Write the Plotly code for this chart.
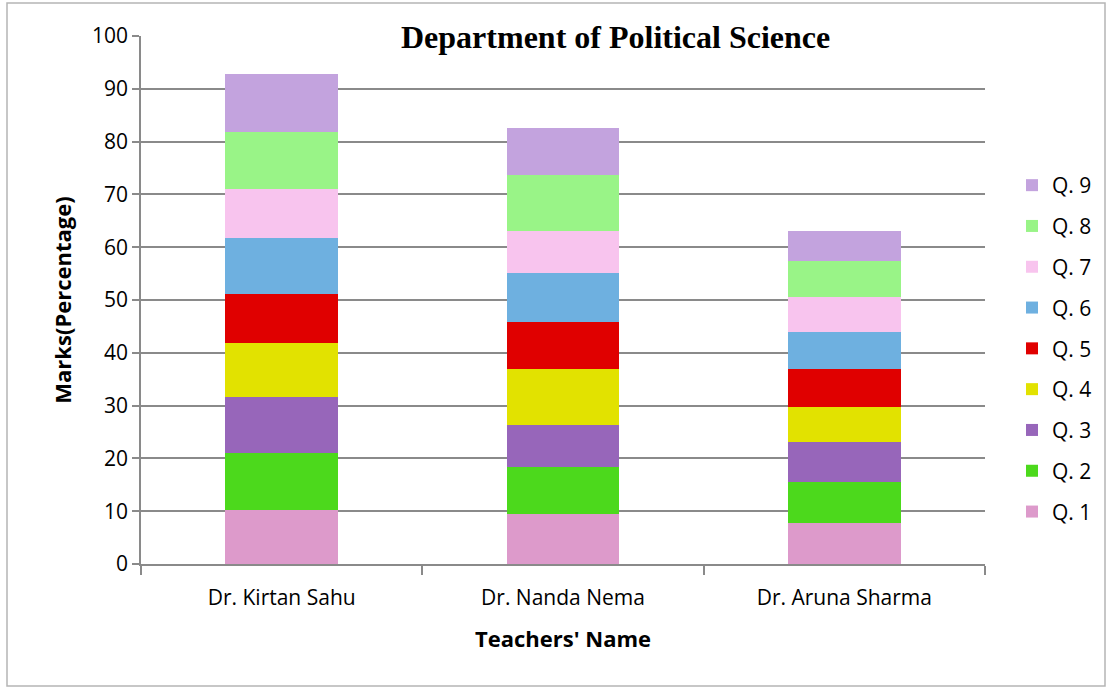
import plotly.graph_objects as go

TEACHERS = ["Dr. Kirtan Sahu", "Dr. Nanda Nema", "Dr. Aruna Sharma"]
QUESTIONS = ["Q. 1", "Q. 2", "Q. 3", "Q. 4", "Q. 5", "Q. 6", "Q. 7", "Q. 8", "Q. 9"]

# marks per question, one list per teacher (percentage)
kirtan = [10.3, 10.7, 10.6, 10.2, 9.3, 10.6, 9.3, 10.8, 11.0]
nanda = [9.4, 8.9, 8.0, 10.6, 8.9, 9.4, 7.9, 10.6, 8.9]
aruna = [7.7, 7.9, 7.6, 6.6, 7.1, 7.1, 6.6, 6.8, 5.7]

COLORS = ["#dd9acb", "#4cd91c", "#9766ba", "#e2e200", "#e00000",
          "#6eb0e0", "#f8c4ee", "#99f487", "#c3a3de"]

W, H = 1109, 689
L, R, T, B = 141, 124, 36, 125
PW, PH = W - L - R, H - T - B


def px_x(p):
    return (p - L) / PW


def px_y(p):
    return (H - B - p) / PH


fig = go.Figure()
for i, q in enumerate(QUESTIONS):
    fig.add_trace(go.Bar(
        x=TEACHERS, y=[kirtan[i], nanda[i], aruna[i]],
        name=q, legendgroup=q, legendrank=len(QUESTIONS) - i,
        marker_color=COLORS[i], marker_line_width=0,
    ))

fig.update_layout(
    width=W, height=H,
    barmode="stack", bargap=0.6,
    paper_bgcolor="white", plot_bgcolor="white",
    margin=dict(l=L, r=R, t=T, b=B),
    font=dict(family="Open Sans, DejaVu Sans, sans-serif", size=22, color="#000"),
    showlegend=True,
    legend=dict(
        traceorder="grouped", tracegroupgap=10.5,
        x=px_x(1012), y=px_y(165), xanchor="left", yanchor="top",
        font=dict(size=21), bgcolor="rgba(0,0,0,0)",
    ),
    annotations=[dict(
        text="<b>Department of Political Science</b>",
        xref="paper", yref="paper", x=px_x(615), y=px_y(37),
        xanchor="center", yanchor="middle", showarrow=False,
        font=dict(family="Liberation Serif, Times New Roman, serif", size=32, color="#000"),
    )],
    shapes=[dict(
        type="rect", xref="paper", yref="paper", layer="above",
        x0=px_x(7), x1=px_x(1105), y0=px_y(686), y1=px_y(3),
        line=dict(color="#b5b5b5", width=1.5),
    )],
)

fig.update_yaxes(
    range=[0, 100], dtick=10, showgrid=True, gridcolor="#8a8a8a", gridwidth=1.5,
    showline=True, linecolor="#8a8a8a", linewidth=1.5,
    ticks="outside", ticklen=7, tickcolor="#8a8a8a", tickwidth=1.5,
    zeroline=False, tickfont=dict(size=21),
    title=dict(text="<b>Marks(Percentage)</b>", font=dict(size=22), standoff=14),
)
fig.update_xaxes(
    showline=True, linecolor="#8a8a8a", linewidth=1.5,
    ticks="outside", tickson="boundaries", ticklen=9, tickcolor="#8a8a8a", tickwidth=1.5,
    tickfont=dict(size=21), ticklabelstandoff=14,
    title=dict(text="<b>Teachers' Name</b>", font=dict(size=22), standoff=22),
)

fig.write_html("out.html", config={"displayModeBar": False},
               post_script="document.body.style.margin='0';")
